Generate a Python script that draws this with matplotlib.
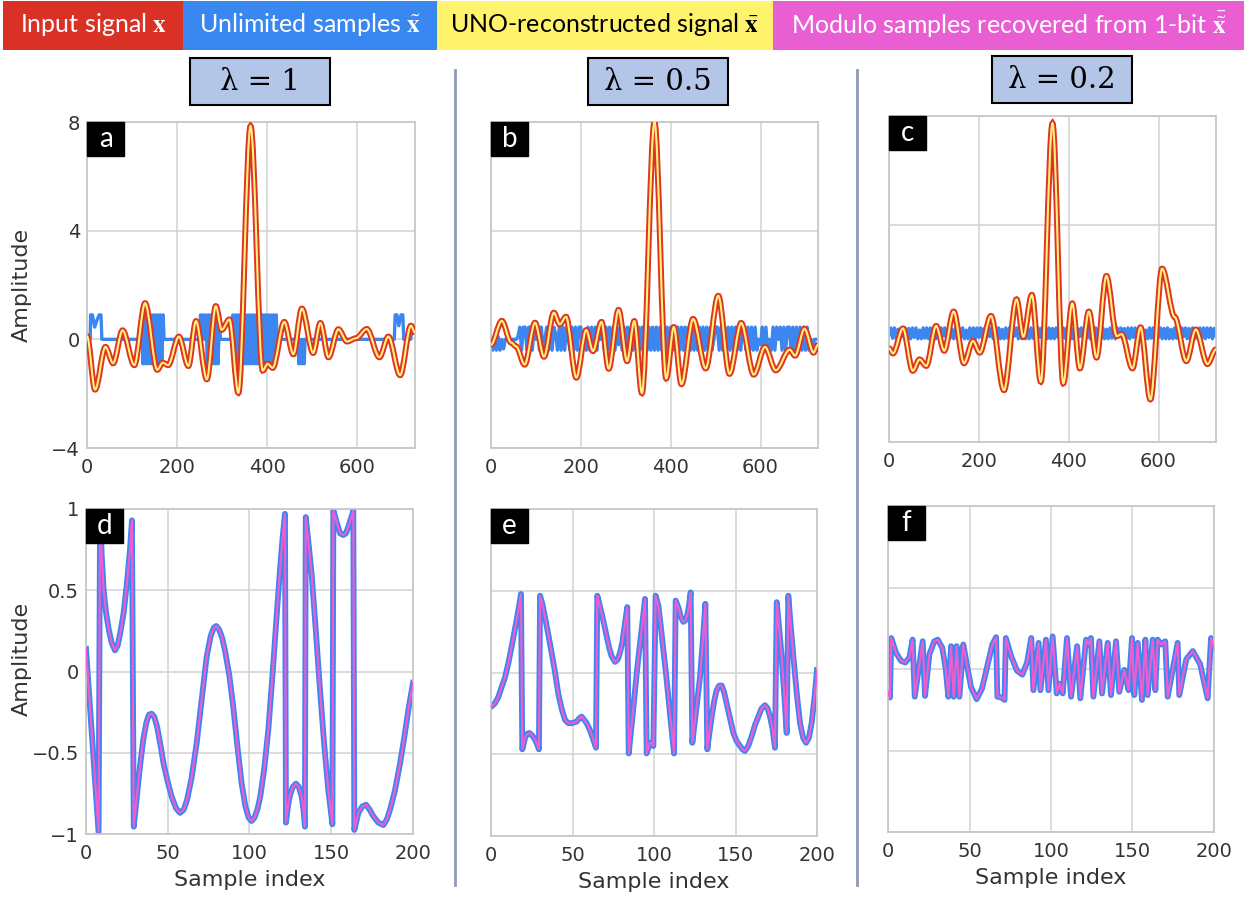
import numpy as np
import matplotlib
matplotlib.use("Agg")
import matplotlib.pyplot as plt
from matplotlib.path import Path
from matplotlib.patches import PathPatch, Rectangle
from matplotlib.lines import Line2D
from matplotlib.ticker import FuncFormatter

plt.rcParams['mathtext.fontset'] = 'stix'
plt.rcParams['font.family'] = 'DejaVu Sans'

# ---- legend / titles ----
legend_labels = [r'Input signal $\mathbf{x}$', r'Unlimited samples $\tilde{\mathbf{x}}$',
                 r'UNO-reconstructed signal $\bar{\mathbf{x}}$',
                 r'Modulo samples recovered from 1-bit $\bar{\tilde{\mathbf{x}}}$']
legend_colors = ['#da3127', '#3987f0', '#fff36e', '#ea5ed4']
legend_text_colors = ['white', 'white', 'black', 'white']
lambdas = ['1', '0.5', '0.2']
panel_letters = ['a', 'b', 'c', 'd', 'e', 'f']

a_x = [0, 18, 41, 58, 79, 105, 129, 156, 168, 180, 204, 225, 242, 266, 286, 299, 316, 336,
       363, 390, 401, 412, 438, 458, 477, 502, 518, 536, 558, 577, 597, 621, 649, 669, 695, 719, 728]
a_y = [0.12, -1.85, -0.28, -0.88, 0.33, -0.95, 1.33, -1.12, -0.86, -0.95, 0.1, -0.98, 0.67, -1.47,
       1.22, 0.35, 0.73, -1.97, 7.85, -1.15, -0.9, -1.05, 0.64, -0.55, 1.13, -0.5, 0.6, -0.66, 0.37,
       -0.08, 0.04, 0.38, -0.66, 0.1, -1.32, 0.5, 0.25]

b_x = [0, 24, 45, 56, 75, 98, 118, 140, 153, 167, 190, 212, 227, 246, 262, 284, 303, 319, 336,
       364, 390, 407, 424, 450, 478, 506, 531, 557, 585, 610, 634, 665, 677, 698, 718, 728]
b_y = [-0.2, 0.68, -0.12, -0.26, -0.93, 0.61, -0.64, 0.98, 0.55, 0.83, -1.41, 0.34, -0.43, 0.64,
       -1.08, 1.08, -0.8, 0.67, -1.98, 8.0, -1.44, 0.45, -1.65, 0.75, -1.07, 1.6, -1.27, 0.6, -1.3,
       -0.28, -1.14, -0.38, -0.6, 0.39, -0.49, -0.2]

c_x = [0, 9, 31, 53, 68, 83, 105, 123, 144, 167, 187, 202, 227, 256, 284, 299, 318, 338, 364,
       388, 408, 425, 445, 462, 484, 507, 518, 542, 560, 582, 608, 636, 662, 683, 709, 728]
c_y = [-0.55, -0.74, 0.18, -1.38, -0.96, -1.2, 0.27, -0.64, 0.8, -1.1, -0.28, -0.71, 0.64, -2.09,
       1.25, -0.13, 1.41, -1.78, 7.73, -1.84, 1.1, -1.29, 0.8, -0.89, 2.11, -0.1, -0.03, -1.29, 0.22,
       -2.43, 2.38, 0.6, -1.02, 0.14, -1.13, -0.59]

# ---- unlimited samples (blue) ----
blue_a_x = [0, 6, 7, 8, 12, 17, 22, 27, 31, 33,
            123, 124, 127, 130, 133, 136, 139, 142, 145, 148, 151, 154, 157, 160, 163, 166, 169, 171,
            250, 252, 255, 258, 261, 264, 267, 270, 273, 276, 279, 282, 285, 288, 291, 294, 296,
            322, 324, 327, 330, 333, 336, 339, 342, 345, 348, 351, 354, 357, 360, 363, 366, 369,
            372, 375, 378, 381, 384, 387, 390, 393, 396, 399, 402, 405, 408, 411, 414, 417, 420, 422,
            468, 470, 473, 476, 479, 482, 484,
            682, 684, 688, 692, 697, 701, 703, 718, 721, 728]
blue_a_y = [0, 0, 0, 0.9, 0.9, 0.45, 0.7, 0.9, 0.9, 0,
            0, -0.9, 0.9, -0.9, 0.9, -0.9, 0.9, -0.9, 0.9, 0, 0.9, -0.9, 0.9, -0.9, 0.9, -0.9, 0.9, 0,
            0, 0.9, 0, 0.9, 0, 0.9, -0.9, 0.9, -0.9, 0.9, -0.9, 0.9, -0.9, 0.9, -0.9, 0.9, 0,
            0, 0.9, -0.9, 0.9, -0.9, 0.9, -0.9, 0, 0.9, -0.9, 0.9, -0.9, 0.9, -0.9, 0.9, -0.9, 0.9,
            -0.9, 0.9, -0.9, 0.9, -0.9, 0, 0.9, -0.9, 0.9, -0.9, 0.9, -0.9, 0.9, -0.9, 0.9, -0.9, 0.9, 0,
            0, -0.9, 0, -0.9, 0, -0.9, 0,
            0, 0.9, 0.9, 0.5, 0.9, 0.9, 0, 0, 0.3, 0.3]

blue_b = [0, -.4, 0, -.4, .1, -.4, 0, -.35, 0, 0, 0, 0, 0, 0, 0, .1, .45, -.4, .45,
          .45, -.4, .45, .45, -.4, .45, 0, .45, -.4, .45, -.4, 0, .45, -.4, .45, -.4, .45, .2, -.4,
          .45, -.4, .45, -.4, .45, 0, -.4, .45, -.4, .45, -.4, .45, .45, -.4, .2, -.4, .45, -.4, .45,
          -.4, .45, -.4, .45, 0, .45, -.4, .45, -.4, .45, -.4, .45, -.4, .45, -.2, .45, -.4, .45, -.4,
          .45, -.4, .45, -.4, .45, -.4, .45, -.4, .45, -.4, .45, -.4, .45, -.4, .45, -.4, .45, -.4, .45,
          -.4, .45, -.4, .45, -.4, .45, -.4, .45, -.4, .45, -.4, .45, -.4, .45, 0, .45, -.4, .45, -.4,
          .45, -.4, .45, -.4, .45, -.4, .45, -.4, .45, -.4, 0, .45, .45, -.4, .45, -.4, .45, -.4, .45,
          -.4, .45, -.4, .45, -.4, .45, -.4, .45, .2, -.4, .45, -.4, .45, -.4, .45, -.4, 0, -.2, .45,
          -.4, .45, -.4, 0, -.4, .45, -.4, .45, 0, .45, -.4, .45, -.4, .45, .45, -.4, .45, -.4, .45,
          -.4, .45, -.4, .45, -.4, .45, -.4, 0, -.4, 0, 0, 0]

blue_c = [-.05, .2, -.18, .2, -.2, .15, -.2, .2, -.12, .2, -.2, .18, -.2, .2, -.15, .2, -.2, .12, -.2,
          .2, -.18, .2, -.2, .2, -.15, .2, -.2, .18, -.2, .2, -.1, .2, -.2, .2, -.18, .15, -.2, .2,
          -.2, .2, -.15, .2, -.2, .12, -.2, .2, -.18, .2, -.2, .2, -.15, .2, -.2, .18, -.2, .2, -.12,
          .2, -.2, .18, -.2, .2, -.2, .15, -.2, .2, -.18, .2, -.2, .2, -.1, .2, -.2, .18, -.2, .2,
          -.2, .15, -.2, .2, -.18, .2, -.2, .2, -.15, .2, -.2, .12, -.2, .2, -.2, .18, -.2, .2, -.15,
          .2, -.2, .2, -.18, .2, -.2, .15, -.2, .2, -.2, .18, -.12, .2, -.2, .2, -.18, .2, -.2, .2,
          -.15, .2, -.2, .18, -.2, .2, -.2, .15, -.2, .2, -.18, .2, -.2, .2, -.12, .2, -.2, .18, -.2,
          .2, -.2, .2, -.15, .2, -.2, .18, -.2, .2, -.2, .12, -.2, .2, -.18, .2, -.2, .2, -.15, .2,
          -.2, .18, -.2, .2, -.2, .15, -.2, .2, -.18, .2, -.2, .2, -.12, .2, -.2, .18, -.2, .2, -.2,
          .15, -.2, .2, -.18, .2, -.2, .2, -.15, .2, -.2, .18, -.1]
blue_idx = np.arange(0, 729, 4)

# ---- modulo samples (bottom row) ----
d_x = [0, 7.7, 8.6, 9.6, 10.8, 12.3, 13.9, 15.6, 17.7, 19.4, 21.0, 23.0, 25.0, 26.9, 28.1, 29.2,
       31.0, 33.0, 35.0, 37.0, 38.6, 40.2, 41.8, 43.5, 45.5, 47.5, 50.0, 52.4, 55.0, 57.5, 59.8, 61.8,
       64.5, 67.7, 70.8, 73.8, 76.3, 78.2, 79.7, 81.3, 83.2, 85.0, 87.6, 90.1, 92.7, 95.2, 97.5, 99.5,
       101.3, 103.0, 104.8, 106.6, 109.0, 111.5, 114.0, 116.6, 118.6, 120.3, 121.7, 122.3, 123.5,
       124.8, 126.5, 128.4, 130.2, 131.9, 133.0, 133.9, 134.4, 136.0, 138.0, 140.5, 143.1, 145.7,
       148.2, 150.7, 151.3, 153.3, 155.4, 157.4, 159.0, 160.4, 162.0, 163.5, 164.1, 166.6, 169.0,
       171.3, 173.5, 175.7, 178.8, 181.9, 184.0, 186.0, 189.0, 192.1, 194.6, 197.1, 200]
d_y = [0.14, -0.99, 0.97, 0.72, 0.50, 0.36, 0.26, 0.18, 0.13, 0.16, 0.24, 0.36, 0.54, 0.75, 0.93,
       -0.955, -0.78, -0.585, -0.42, -0.31, -0.265, -0.26, -0.28, -0.34, -0.45, -0.57, -0.68, -0.77,
       -0.84, -0.87, -0.85, -0.79, -0.66, -0.44, -0.17, 0.09, 0.22, 0.27, 0.28, 0.26, 0.21, 0.13,
       -0.02, -0.22, -0.47, -0.69, -0.83, -0.9, -0.92, -0.9, -0.85, -0.77, -0.6, -0.36, -0.03, 0.34,
       0.62, 0.83, 0.97, -0.93, -0.83, -0.76, -0.71, -0.69, -0.71, -0.77, -0.85, -0.955, 0.95, 0.8,
       0.60, 0.26, -0.11, -0.45, -0.73, -0.94, 0.99, 0.92, 0.85, 0.84, 0.85, 0.89, 0.94, 0.99,
       -0.975, -0.87, -0.83, -0.82, -0.85, -0.89, -0.93, -0.945, -0.91, -0.85, -0.73, -0.565, -0.41,
       -0.24, -0.07]

e_x = [0, 2.3, 4.5, 6.5, 8.6, 10.7, 12.7, 14.2, 15.7, 17.1, 18.4, 19.2, 20.9, 22.2, 23.5, 25.3, 27.0,
       28.3, 29.4, 30.1, 31.5, 33.1, 35.2, 37.2, 39.3, 41.3, 43.3, 45.4, 47.5, 49.5, 52.6, 54.2, 55.6,
       57.2, 58.7, 60.6, 62.4, 64.4, 65.2, 66.5, 67.9, 69.5, 71.0, 72.5, 74.0, 76.1, 77.8, 79.1, 80.5,
       81.6, 83.6, 84.5, 87.0, 89.4, 91.0, 92.4, 94.5, 95.5, 97.5, 98.5, 99.6, 101.0, 102.7, 104.2,
       105.7, 107.3, 108.8, 110.5, 112.3, 113.3, 114.9, 116.5, 118.0, 119.3, 120.4, 121.5, 122.5,
       123.5, 126.0, 128.2, 130.0, 131.5, 132.7, 134.0, 135.4, 137.0, 138.4, 140.0, 141.5, 143.0,
       144.6, 146.6, 148.7, 150.7, 152.8, 154.3, 155.8, 157.8, 159.9, 162.0, 164.0, 166.0, 168.1,
       169.7, 171.2, 172.8, 174.2, 175.3, 176.8, 178.3, 180.0, 181.4, 182.4, 184.0, 185.5, 187.5,
       189.6, 191.5, 193.3, 195.0, 196.7, 198.5, 200]
e_y = [-0.21, -0.19, -0.15, -0.09, -0.03, 0.06, 0.16, 0.24, 0.32, 0.40, 0.48, -0.47, -0.40, -0.375,
       -0.37, -0.385, -0.41, -0.44, -0.47, 0.47, 0.42, 0.34, 0.23, 0.12, 0.0, -0.13, -0.22, -0.29,
       -0.31, -0.31, -0.30, -0.28, -0.27, -0.29, -0.31, -0.35, -0.40, -0.46, 0.47, 0.42, 0.36, 0.29,
       0.22, 0.15, 0.10, 0.065, 0.08, 0.12, 0.18, 0.26, 0.40, -0.495, -0.25, -0.005, 0.14, 0.26, 0.45,
       -0.495, -0.43, -0.43, -0.45, 0.47, 0.41, 0.28, 0.14, 0.0, -0.15, -0.32, -0.495, 0.44, 0.40,
       0.34, 0.31, 0.32, 0.35, 0.41, 0.49, -0.43, -0.22, -0.03, 0.2, 0.42, -0.47, -0.37, -0.27, -0.17,
       -0.11, -0.08, -0.08, -0.12, -0.19, -0.28, -0.37, -0.42, -0.45, -0.47, -0.48, -0.45, -0.39,
       -0.32, -0.27, -0.22, -0.20, -0.22, -0.27, -0.35, -0.46, 0.43, 0.27, 0.10, -0.15, -0.37, 0.47,
       0.27, 0.10, -0.12, -0.31, -0.4, -0.43, -0.4, -0.31, -0.15, 0.015]

f_x = [0, 1.2, 2.0, 4.9, 8.0, 10.6, 13.1, 15.1, 16.4, 21.3, 22.7, 25.4, 28.4, 30.5, 33.3, 35.4, 37.0,
       38.7, 40.3, 42.1, 43.8, 46.2, 48.5, 50.9, 54.4, 57.7, 61.2, 64.0, 66.3, 67.1, 69.7, 71.5, 72.3,
       75.5, 79.1, 82.4, 85.3, 87.9, 89.2, 92.4, 93.5, 96.9, 98.4, 101.0, 103.5, 105.3, 107.2, 109.8,
       112.3, 116.0, 118.0, 121.5, 123.1, 124.5, 126.0, 129.7, 131.3, 134.8, 136.8, 139.9, 141.9,
       145.0, 147.6, 149.7, 151.1, 153.2, 155.8, 157.9, 159.3, 162.4, 164.0, 165.4, 167.5, 170.1,
       171.6, 177.7, 178.7, 183.0, 187.0, 191.5, 196.1, 198.2, 200]
f_y = [-0.14, -0.175, 0.19, 0.10, 0.05, 0.04, 0.07, 0.18, -0.17, 0.17, -0.165, 0.09, 0.17, 0.18,
       0.13, 0.0, -0.17, 0.14, -0.17, 0.14, -0.17, 0.15, 0.02, -0.11, -0.185, -0.12, 0.03, 0.15,
       0.195, -0.17, -0.175, -0.19, 0.19, 0.08, -0.01, -0.035, 0.04, 0.19, -0.13, 0.16, -0.13, 0.18,
       -0.13, 0.2, -0.15, -0.09, -0.15, 0.19, -0.17, 0.14, -0.18, 0.18, 0.15, 0.19, -0.17, 0.17,
       -0.15, 0.16, -0.16, 0.17, -0.14, -0.005, -0.13, 0.19, -0.16, 0.16, -0.19, 0.18, -0.16, 0.18,
       -0.13, 0.18, 0.15, 0.17, -0.17, 0.16, -0.16, 0.06, 0.11, 0.03, -0.18, 0.19, 0.12]

RED, YELLOW, BLUE, MAGENTA = '#df3424', '#fff27a', '#3b86f0', '#ee5cd2'
GRID, SPINE, TXT = '#d2d2d2', '#c8c8c8', '#333333'
W, H = 1244, 898


def fx(px):
    return px / W


def fy(py):
    return 1 - py / H


def extrema_path(xs, ys):
    # cubic segments with flat tangents at every read extremum
    verts = [(xs[0], ys[0])]
    codes = [Path.MOVETO]
    for x0, y0, x1, y1 in zip(xs[:-1], ys[:-1], xs[1:], ys[1:]):
        h = (x1 - x0) / 3
        verts += [(x0 + h, y0), (x1 - h, y1), (x1, y1)]
        codes += [Path.CURVE4] * 3
    return Path(verts, codes)


def style(ax, xmax, ylim, xticks, yticks, show_y):
    ax.set_xlim(0, xmax)
    ax.set_ylim(*ylim)
    ax.set_xticks(xticks)
    ax.set_yticks(yticks)
    ax.grid(True, color=GRID, lw=1.1)
    ax.set_axisbelow(True)
    for s in ax.spines.values():
        s.set_color(SPINE)
        s.set_linewidth(1.3)
    ax.tick_params(length=0, labelsize=14, labelcolor=TXT)
    ax.tick_params(axis='x', pad=7)
    ax.tick_params(axis='y', pad=5)
    if not show_y:
        ax.tick_params(labelleft=False)


def panel_tag(ax, letter, w, h):
    ax.add_patch(Rectangle((0, 1 - h), w, h, transform=ax.transAxes, color='black',
                           zorder=10, clip_on=False))
    ax.text(w / 2, 1 - h / 2, letter, transform=ax.transAxes, color='white', fontsize=20,
            family='Lato', ha='center', va='center', zorder=11)


fig = plt.figure(figsize=(12.44, 8.98), dpi=100)

# legend strip
edges = [3, 183, 437, 773, 1244]
for i, lab in enumerate(legend_labels):
    x0, x1 = edges[i], edges[i + 1]
    fig.add_artist(Rectangle((fx(x0), fy(50)), fx(x1 - x0), 49 / H, transform=fig.transFigure,
                             facecolor=legend_colors[i], edgecolor='none'))
    fig.text(fx((x0 + x1) / 2), fy(25), lab, color=legend_text_colors[i], fontsize=18,
             family='Lato', ha='center', va='center')

# lambda boxes
box_px = [(190, 58), (588, 58), (992, 56)]
for (bx, by), lam in zip(box_px, lambdas):
    fig.add_artist(Rectangle((fx(bx), fy(by + 47)), fx(140), 47 / H, transform=fig.transFigure,
                             facecolor='#b4c6e7', edgecolor='black', lw=1.5))
    fig.text(fx(bx + 70), fy(by + 24), '\u03bb = ' + lam, fontsize=21, family='DejaVu Serif',
             ha='center', va='center', color='black')

# separators
for sx in [455, 857]:
    fig.add_artist(Line2D([fx(sx), fx(sx)], [fy(70), fy(885)], transform=fig.transFigure,
                          color='#8e9bb1', lw=2))

top_rects = [(87, 122, 415, 448), (491, 122, 818, 448), (889, 116, 1216, 442)]
bot_rects = [(86, 509, 413, 834), (491, 509, 817, 836), (888, 506, 1214, 832)]
top_data = [(a_x, a_y), (b_x, b_y), (c_x, c_y)]
bot_data = [(d_x, d_y), (e_x, e_y), (f_x, f_y)]

for i, (l, t, r, b) in enumerate(top_rects):
    ax = fig.add_axes([fx(l), fy(b), fx(r - l), (b - t) / H])
    style(ax, 728, (-4, 8), [0, 200, 400, 600], [-4, 0, 4, 8], i == 0)
    if i == 0:
        ax.plot(blue_a_x, blue_a_y, color=BLUE, lw=2.4, zorder=2)
    elif i == 1:
        ax.plot(blue_idx, blue_b, color=BLUE, lw=2.4, zorder=2)
    else:
        ax.plot(blue_idx, blue_c, color=BLUE, lw=2.4, zorder=2)
    xs, ys = top_data[i]
    path = extrema_path(xs, ys)
    ax.add_patch(PathPatch(path, facecolor='none', edgecolor=RED, lw=4.3, zorder=3))
    ax.add_patch(PathPatch(path, facecolor='none', edgecolor=YELLOW, lw=1.5, zorder=4))
    if i == 0:
        ax.set_ylabel('Amplitude', fontsize=16, color=TXT)
        ax.yaxis.set_label_coords(-0.168, 0.5)
    panel_tag(ax, panel_letters[i], 37 / (r - l), 34 / (b - t))

fmt = FuncFormatter(lambda v, p: f'{v:g}'.replace('-', '\u2212'))
for i, (l, t, r, b) in enumerate(bot_rects):
    ax = fig.add_axes([fx(l), fy(b), fx(r - l), (b - t) / H])
    style(ax, 200, (-1, 1), [0, 50, 100, 150, 200], [-1, -0.5, 0, 0.5, 1], i == 0)
    ax.yaxis.set_major_formatter(fmt)
    xs, ys = bot_data[i]
    ax.plot(xs, ys, color=BLUE, lw=4.2, zorder=2)
    ax.plot(xs, ys, color=MAGENTA, lw=1.6, zorder=3)
    ax.set_xlabel('Sample index', fontsize=16, color=TXT)
    ax.xaxis.set_label_coords(0.5, -0.11)
    if i == 0:
        ax.set_ylabel('Amplitude', fontsize=16, color=TXT)
        ax.yaxis.set_label_coords(-0.165, 0.54)
    panel_tag(ax, panel_letters[i + 3], 37 / (r - l), 34 / (b - t))

fig.savefig('out.png', dpi=100)
